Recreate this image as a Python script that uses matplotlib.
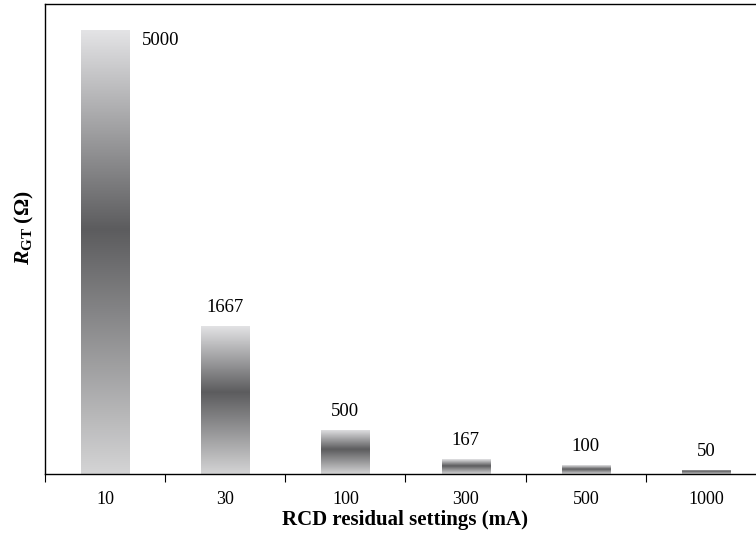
import numpy as np
import matplotlib
matplotlib.use("Agg")
import matplotlib.pyplot as plt
from matplotlib.colors import LinearSegmentedColormap

categories = ["10", "30", "100", "300", "500", "1000"]
values = [5000, 1667, 500, 167, 100, 50]
labels = ["5000", "1667", "500", "167", "100", "50"]

plt.rcParams['font.family'] = ['Liberation Serif', 'DejaVu Serif']
plt.rcParams['mathtext.fontset'] = 'custom'
plt.rcParams['mathtext.rm'] = 'Liberation Serif:bold'
plt.rcParams['mathtext.it'] = 'Liberation Serif:italic:bold'
plt.rcParams['mathtext.bf'] = 'Liberation Serif:bold'

fig = plt.figure(figsize=(7.56, 5.33), dpi=100)
ax = fig.add_axes([45/756, 59/533, 721/756, 470/533])

x = np.arange(len(categories))
bars = ax.bar(x, values, width=0.4, color='none', edgecolor='none')

cmap = LinearSegmentedColormap.from_list(
    'grad', [(0.0, '#d4d4d5'), (0.55, '#5c5c5e'), (1.0, '#e4e4e6')])
grad = np.linspace(0, 1, 256).reshape(-1, 1)
for p in bars.patches:
    x0, y0 = p.get_x(), p.get_y()
    w, h = p.get_width(), p.get_height()
    im = ax.imshow(grad, cmap=cmap, aspect='auto', origin='lower',
                   extent=[x0, x0 + w, y0, y0 + h], interpolation='bilinear', zorder=2)
    im.set_clip_path(p)

ax.set_xlim(-0.5, len(categories) - 0.5)
ax.set_ylim(0, 5290)

for i, (v, lab) in enumerate(zip(values, labels)):
    if i == 0:
        ax.annotate(lab, (i + 0.2, v), xytext=(9.5, -8), textcoords='offset points',
                    ha='left', va='center', fontsize=13.5)
    else:
        ax.annotate(lab, (i, v), xytext=(0, 7), textcoords='offset points',
                    ha='center', va='bottom', fontsize=13.5)

ax.set_xticks(x)
ax.set_xticklabels(categories, fontsize=13)
ax.set_xticks(np.arange(-0.5, len(categories), 1), minor=True)
ax.tick_params(axis='x', which='major', length=0, pad=12)
ax.tick_params(axis='x', which='minor', length=6, width=0.8, direction='out')
ax.set_yticks([])

ax.spines['right'].set_visible(False)
for s in ['left', 'top', 'bottom']:
    ax.spines[s].set_linewidth(1.0)

ax.set_xlabel("RCD residual settings (mA)", fontsize=15, fontweight='bold', labelpad=2)
ax.set_ylabel(r"$\mathit{R}_{\mathrm{GT}}$ (Ω)", fontsize=15.5, fontweight='bold')
ax.yaxis.set_label_coords(-0.012, 0.523)

fig.savefig("out.png", dpi=100)
